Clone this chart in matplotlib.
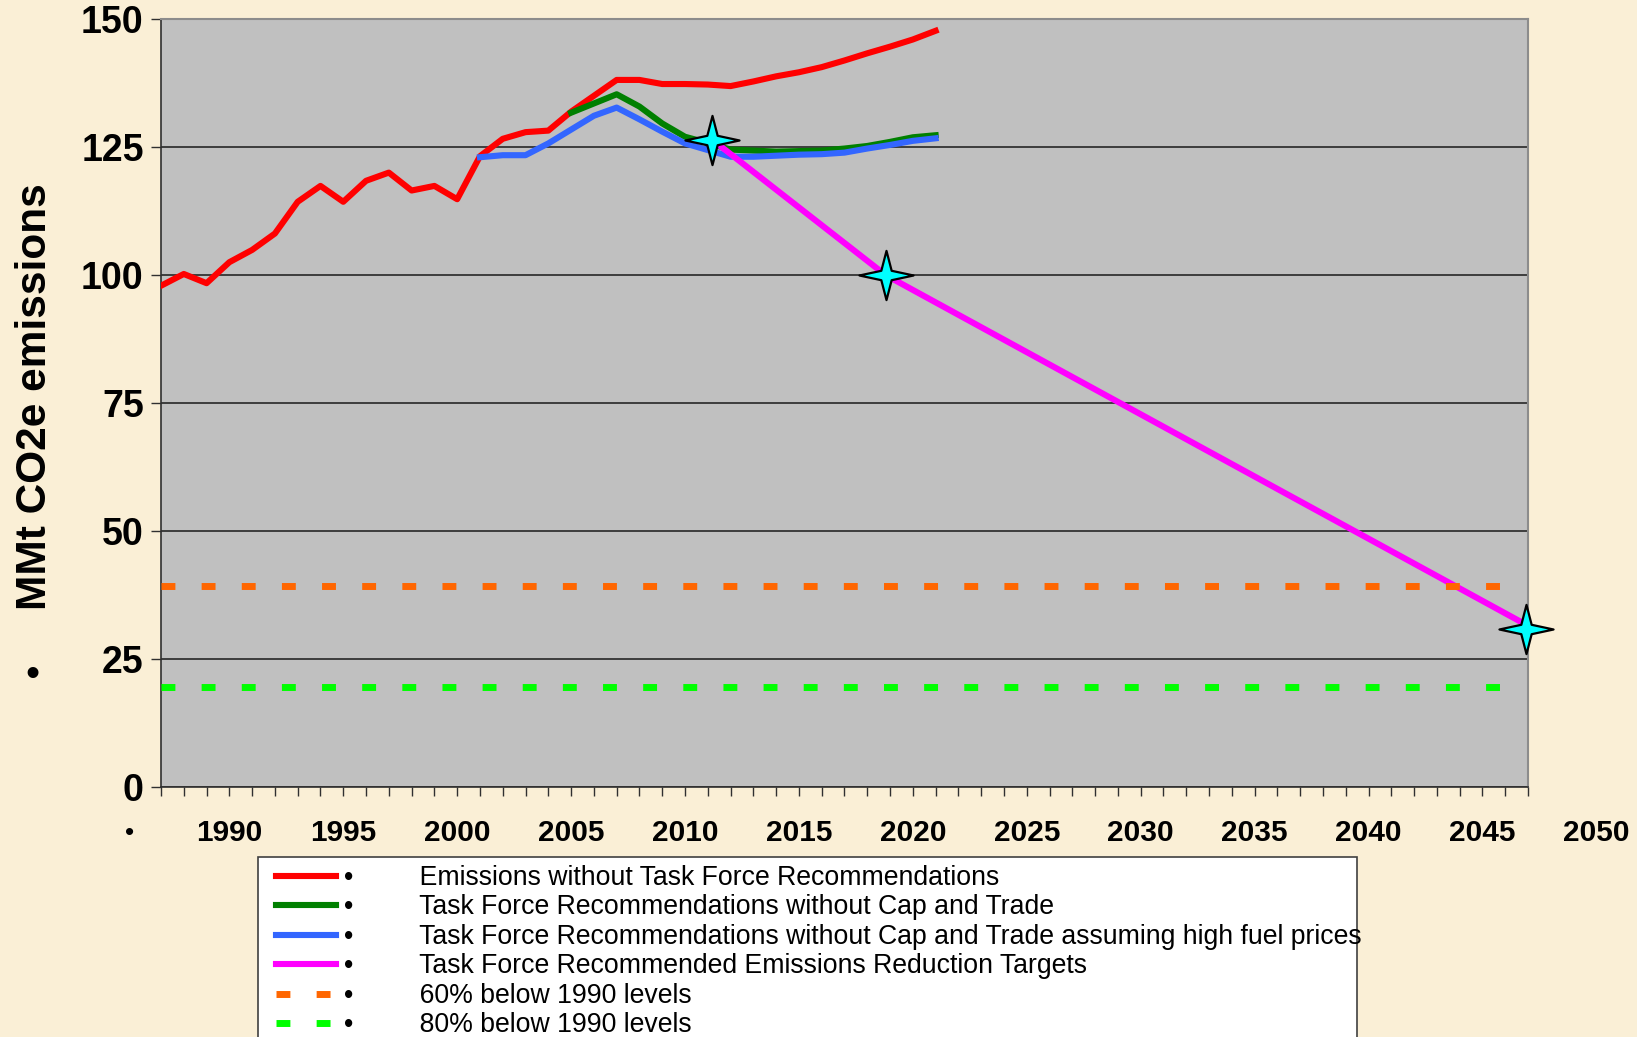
import numpy as np
import matplotlib.pyplot as plt
from matplotlib.path import Path
from matplotlib.patches import Rectangle

plt.rcParams['font.family'] = ['Liberation Sans', 'DejaVu Sans']

# data (MMt CO2e)
hist_years = list(range(1987, 2022))
no_task_force = [97.9, 100.2, 98.4, 102.5, 104.9, 108.1, 114.3, 117.4, 114.3, 118.4,
                 120.0, 116.5, 117.4, 114.8, 123.2, 126.6, 127.9, 128.2, 131.9, 135.0,
                 138.1, 138.1, 137.3, 137.3, 137.2, 136.9, 137.8, 138.8, 139.6, 140.6,
                 141.9, 143.3, 144.6, 146.0, 147.7]

green_years = list(range(2005, 2022))
no_cap_trade = [131.7, 133.5, 135.3, 132.9, 129.6, 127.0, 125.8, 124.5, 124.3, 124.1,
                124.2, 124.3, 124.7, 125.2, 126.0, 126.9, 127.3]

blue_years = list(range(2001, 2022))
high_fuel = [123.0, 123.4, 123.4, 125.7, 128.4, 131.1, 132.7, 130.4, 128.0, 125.7,
             124.4, 123.1, 123.1, 123.3, 123.5, 123.6, 123.9, 124.7, 125.4, 126.2, 126.7]

target_years = [2011.2, 2018.8, 2047]
target_values = [126.4, 100.0, 31.5]

star_years = [2011.2, 2018.8, 2046.9]
star_values = [126.4, 100.0, 30.9]

level_years = [1987, 2046]
below_60 = 39.2
below_80 = 19.6

label_years = list(range(1990, 2051, 5))

labels = ["Emissions without Task Force Recommendations",
          "Task Force Recommendations without Cap and Trade",
          "Task Force Recommendations without Cap and Trade assuming high fuel prices",
          "Task Force Recommended Emissions Reduction Targets",
          "60% below 1990 levels",
          "80% below 1990 levels"]

W, H = 1637, 1037
fig = plt.figure(figsize=(W / 100, H / 100), dpi=100)
fig.patch.set_facecolor('#FAEFD6')
ax = fig.add_axes([161 / W, 1 - 787 / H, (1528 - 161) / W, (787 - 19) / H])
ax.set_facecolor('#C0C0C0')

lw = 4.4
h1, = ax.plot(hist_years, no_task_force, color='#FF0000', lw=lw, zorder=3)
h2, = ax.plot(green_years, no_cap_trade, color='#008000', lw=lw, zorder=3)
h3, = ax.plot(blue_years, high_fuel, color='#3366FF', lw=lw, zorder=3)
h4, = ax.plot(target_years, target_values, color='#FF00FF', lw=lw, zorder=3)
h5, = ax.plot(level_years, [below_60] * 2, color='#FF6600', lw=5.0,
              dashes=(2, 3.78), dash_capstyle='butt', zorder=3)
h6, = ax.plot(level_years, [below_80] * 2, color='#00FF00', lw=5.0,
              dashes=(2, 3.78), dash_capstyle='butt', zorder=3)

# four point star marker
ang = np.arange(8) * np.pi / 4
rad = np.where(np.arange(8) % 2 == 0, 1.0, 0.27)
star = Path(np.column_stack([1.1 * rad * np.cos(ang), rad * np.sin(ang)]).tolist()
            + [[1.1, 0.0]], closed=True)
ax.plot(star_years, star_values, ls='none', marker=star, ms=39,
        mfc='#00FFFF', mec='black', mew=1.6, zorder=5, clip_on=False)

ax.set_xlim(1987, 2047)
ax.set_ylim(0, 150)
ax.set_xticks(np.arange(1987, 2048))
ax.set_xticklabels([])
ax.set_yticks(range(0, 151, 25))
ax.set_yticklabels([str(v) for v in range(0, 151, 25)], fontsize=27, fontweight='bold')
ax.tick_params(axis='x', length=6.5, width=1, color='#303030')
ax.tick_params(axis='y', length=7, width=1, color='#303030', pad=5.5)
ax.yaxis.grid(True, color='#1a1a1a', lw=1.1)
ax.set_axisbelow(True)
for side in ['left', 'bottom']:
    ax.spines[side].set_color('#303030')
    ax.spines[side].set_linewidth(1.2)
for side in ['top', 'right']:
    ax.spines[side].set_color('#8c8c8c')
    ax.spines[side].set_linewidth(1.5)

for yr in label_years:
    ax.text(yr, -46 / 768, str(yr), transform=ax.get_xaxis_transform(),
            ha='center', va='center', fontsize=21.5, fontweight='bold', clip_on=False)

fig.text(35 / W, 1 - 397 / H, 'MMt CO2e emissions', rotation=90, ha='center',
         va='center', fontsize=30.5, fontweight='bold')
fig.text(32 / W, 1 - 675 / H, '\u2022', ha='center', va='center', fontsize=29)
fig.text(130 / W, 1 - 833 / H, '\u2022', ha='center', va='center', fontsize=19)

# legend box running off the bottom of the slide
fig.add_artist(Rectangle((258 / W, -0.05), (1357 - 258) / W, 1 - 857 / H + 0.05,
                         transform=fig.transFigure, facecolor='white',
                         edgecolor='#404040', lw=1.2, zorder=1))
leg = fig.legend([h1, h2, h3, h4, h5, h6],
                 ['\u2022         ' + s for s in labels],
                 loc='upper left', bbox_to_anchor=(275.5 / W, 1 - 865 / H),
                 frameon=False, fontsize=19.2, handlelength=2.25,
                 handletextpad=0.3, labelspacing=0.13, borderpad=0, borderaxespad=0)
leg.set_zorder(2)

fig.savefig('out.png', dpi=100, facecolor=fig.get_facecolor())
